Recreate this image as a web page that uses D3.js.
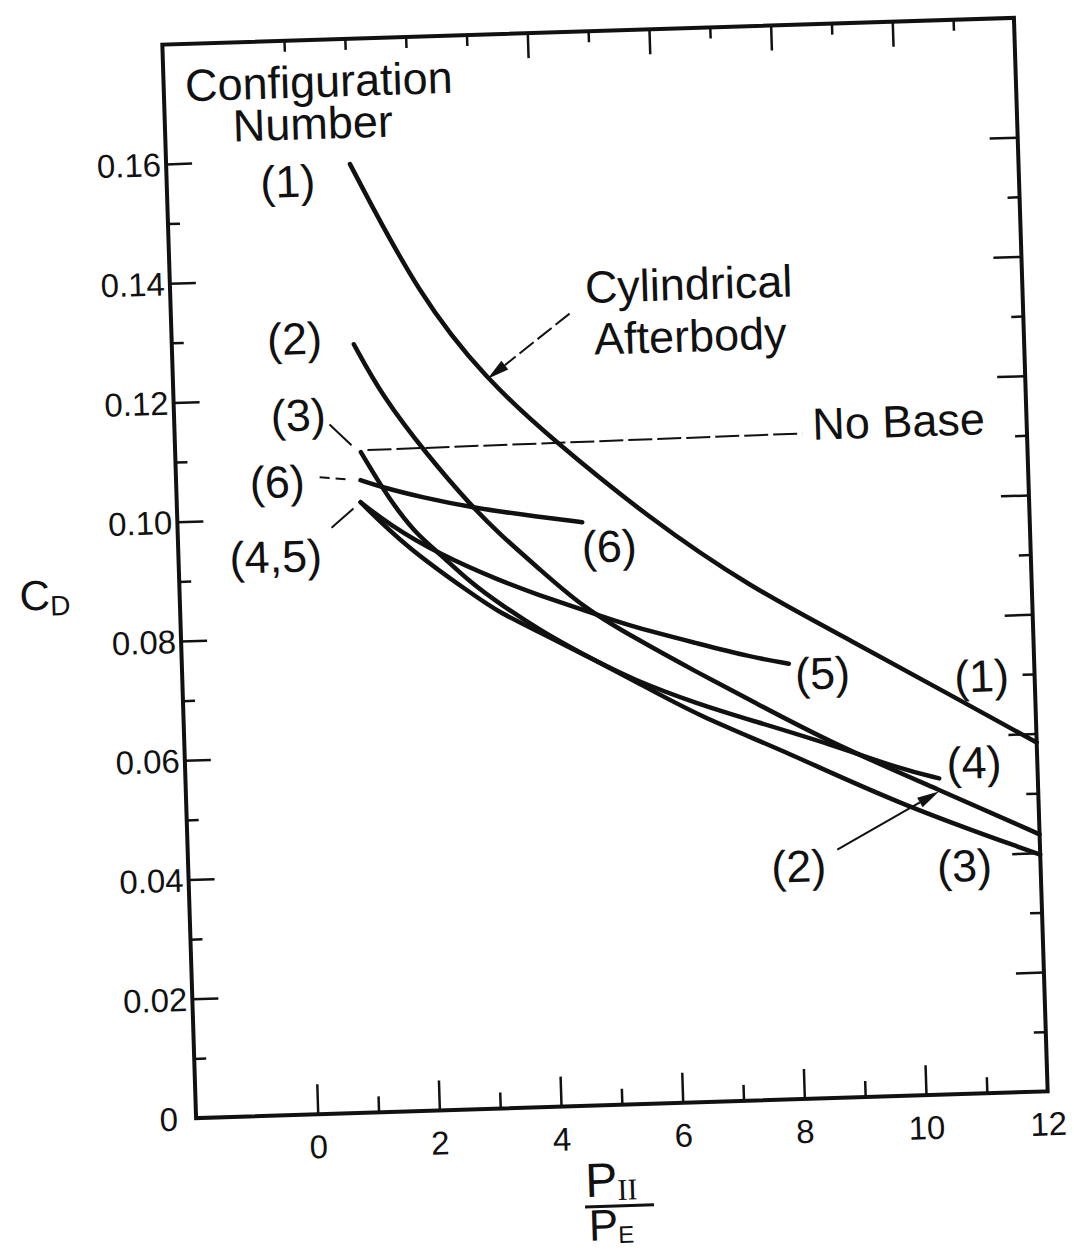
<!DOCTYPE html>
<html>
<head>
<meta charset="utf-8">
<script src="https://cdn.jsdelivr.net/npm/d3@7"></script>
<style>
  html, body { margin: 0; padding: 0; background: #fff; }
  svg { display: block; }
  text { font-family: "Liberation Sans", Arial, sans-serif; fill: #111; }
</style>
</head>
<body>
<svg id="chart" width="1074" height="1252"></svg>
<script>
// Drag coefficient C_D against pressure ratio P_II / P_E for six configurations

// Axis ticks
const xMajorTicks = [0, 2, 4, 6, 8, 10, 12];
const xMinorTicks = [1, 3, 5, 7, 9, 11];
const xTopTicks = [0, 1, 2, 3, 4, 5, 6, 7, 8, 9, 10, 11];
const yMajorTicks = [0, 0.02, 0.04, 0.06, 0.08, 0.10, 0.12, 0.14, 0.16];
const yMinorTicks = [0.01, 0.03, 0.05, 0.07, 0.09, 0.11, 0.13, 0.15];

// Configuration (1): cylindrical afterbody
const ratio1 = [1.02, 2.10, 3.16, 4.16, 5.76, 7.36, 8.98, 10.59, 12.0];
const cd1    = [0.159, 0.1363, 0.1221, 0.1122, 0.0980, 0.0861, 0.0767, 0.0670, 0.0585];
// Configuration (2)
const ratio2 = [0.99, 1.44, 2.13, 2.81, 3.29, 3.92, 4.61, 5.42, 6.50, 7.30, 8.64, 10.37, 12.0];
const cd2    = [0.1288, 0.1198, 0.1100, 0.1014, 0.0962, 0.0902, 0.0836, 0.0783, 0.0718, 0.0672, 0.0594, 0.0511, 0.0431];
// Configuration (3): no base
const ratio3 = [1.05, 1.40, 1.63, 1.93, 2.30, 2.78, 3.26, 3.90, 4.59, 5.40, 6.48, 7.86, 9.72, 12.0];
const cd3    = [0.1107, 0.1043, 0.1007, 0.0966, 0.0932, 0.0883, 0.0845, 0.0799, 0.0757, 0.0711, 0.0646, 0.0584, 0.0488, 0.0397];
// Configuration (4)
const ratio4 = [1.02, 1.75, 2.81, 3.24, 3.89, 4.59, 5.40, 6.49, 7.30, 8.64, 9.74, 10.38];
const cd4    = [0.1023, 0.0945, 0.0863, 0.0831, 0.0796, 0.0757, 0.0711, 0.0666, 0.0638, 0.0592, 0.0548, 0.0530];
// Configuration (5)
const ratio5 = [1.02, 1.48, 2.28, 3.25, 3.90, 4.60, 5.32, 6.51, 7.32, 7.97];
const cd5    = [0.1023, 0.0984, 0.0932, 0.0885, 0.0858, 0.0832, 0.0803, 0.0768, 0.0744, 0.0730];
// Configuration (6)
const ratio6 = [1.03, 1.38, 2.03, 2.85, 3.94, 4.65];
const cd6    = [0.1060, 0.1047, 0.1028, 0.1008, 0.0989, 0.0978];

// Text annotations: [text, ratio, C_D, anchor]
const annotations = [
  ["Configuration", 0.55, 0.1704, "middle"],
  ["Number", 0.43, 0.1634, "middle"],
  ["(1)", -0.01, 0.1538, "middle"],
  ["(2)", 0.02, 0.1274, "middle"],
  ["(3)", 0.04, 0.1146, "middle"],
  ["(6)", -0.34, 0.1035, "middle"],
  ["(4,5)", -0.40, 0.0910, "middle"],
  ["(6)", 5.08, 0.0910, "middle"],
  ["Cylindrical", 6.52, 0.1345, "middle"],
  ["Afterbody", 6.52, 0.1258, "middle"],
  ["No Base", 8.48, 0.1104, "start"],
  ["(5)", 8.52, 0.0686, "middle"],
  ["(1)", 11.13, 0.0673, "middle"],
  ["(4)", 10.96, 0.0528, "middle"],
  ["(2)", 8.03, 0.0364, "middle"],
  ["(3)", 10.75, 0.0356, "middle"]
];

// Leader lines: [[ratio, C_D], [ratio, C_D]], dash pattern
const leaders = [
  [[[1.16, 0.1110], [8.31, 0.1115]], "24,5"],
  [[[0.55, 0.1155], [0.90, 0.1119]], null],
  [[[0.36, 0.1067], [0.80, 0.1062]], "10,6"],
  [[[0.53, 0.0982], [0.90, 0.1013]], null]
];
// Arrows: tail then tip
const arrows = [
  [[4.55, 0.1328], [3.17, 0.1223], "18,5"],
  [[8.67, 0.0416], [10.37, 0.0508], null]
];

const svg = d3.select("#chart");
const x = d3.scaleLinear().domain([-2, 12]).range([179, 1031]);
const y = d3.scaleLinear().domain([0, 0.18]).range([1105, 31]);

// whole plate sits slightly tilted
const g = svg.append("g").attr("transform", "rotate(-1.8, 605, 568)");

const ink = "#111";

function styleAxis(sel) {
  sel.select(".domain").remove();
  sel.selectAll(".tick line").attr("stroke", ink).attr("stroke-width", 2.5);
  sel.selectAll(".tick text").remove();
}

// left ticks
g.append("g").attr("transform", `translate(${x(-2)},0)`)
  .call(d3.axisLeft(y).tickValues(yMajorTicks.filter(d => d > 0)).tickSizeInner(-26).tickSizeOuter(0))
  .call(styleAxis);
g.append("g").attr("transform", `translate(${x(-2)},0)`)
  .call(d3.axisLeft(y).tickValues(yMinorTicks).tickSizeInner(-12).tickSizeOuter(0))
  .call(styleAxis);
// right ticks
g.append("g").attr("transform", `translate(${x(12)},0)`)
  .call(d3.axisRight(y).tickValues(yMajorTicks.filter(d => d > 0)).tickSizeInner(-28).tickSizeOuter(0))
  .call(styleAxis);
g.append("g").attr("transform", `translate(${x(12)},0)`)
  .call(d3.axisRight(y).tickValues(yMinorTicks).tickSizeInner(-12).tickSizeOuter(0))
  .call(styleAxis);
// bottom ticks
g.append("g").attr("transform", `translate(0,${y(0)})`)
  .call(d3.axisBottom(x).tickValues(xMajorTicks.filter(d => d < 12)).tickSizeInner(-30).tickSizeOuter(0))
  .call(styleAxis);
g.append("g").attr("transform", `translate(0,${y(0)})`)
  .call(d3.axisBottom(x).tickValues(xMinorTicks).tickSizeInner(-16).tickSizeOuter(0))
  .call(styleAxis);
// top ticks
g.append("g").attr("transform", `translate(0,${y(0.18)})`)
  .call(d3.axisTop(x).tickValues(xTopTicks.filter(d => d >= 4 && d % 2 === 0)).tickSizeInner(-25).tickSizeOuter(0))
  .call(styleAxis);
g.append("g").attr("transform", `translate(0,${y(0.18)})`)
  .call(d3.axisTop(x).tickValues(xTopTicks.filter(d => !(d >= 4 && d % 2 === 0))).tickSizeInner(-11).tickSizeOuter(0))
  .call(styleAxis);

// frame
g.append("rect")
  .attr("x", x(-2)).attr("y", y(0.18))
  .attr("width", x(12) - x(-2)).attr("height", y(0) - y(0.18))
  .attr("fill", "none").attr("stroke", ink).attr("stroke-width", 4);

// tick labels
const yFmt = d => d === 0 ? "0" : d3.format(".2f")(d);
g.append("g").selectAll("text").data(yMajorTicks).join("text")
  .attr("x", d => x(-2) - (d === 0 ? 18 : 5))
  .attr("y", d => y(d) + 12)
  .attr("text-anchor", "end")
  .attr("font-size", 33)
  .text(yFmt);
g.append("g").selectAll("text").data(xMajorTicks).join("text")
  .attr("x", d => x(d))
  .attr("y", y(0) + 44)
  .attr("text-anchor", "middle")
  .attr("font-size", 33)
  .text(d => d);

// axis titles
const cd = g.append("text").attr("x", 19).attr("y", 592).attr("font-size", 42);
cd.append("tspan").text("C");
cd.append("tspan").attr("font-size", 28).attr("dy", 6).text("D");

const num = g.append("text").attr("x", 566).attr("y", 1196).attr("font-size", 48);
num.append("tspan").text("P");
num.append("tspan").attr("font-size", 30).attr("dy", 4)
  .style("font-family", "'Liberation Serif', serif").text("II");
g.append("line").attr("x1", 565).attr("x2", 634).attr("y1", 1206).attr("y2", 1206)
  .attr("stroke", ink).attr("stroke-width", 3);
const den = g.append("text").attr("x", 568).attr("y", 1240).attr("font-size", 44);
den.append("tspan").text("P");
den.append("tspan").attr("font-size", 24).attr("dy", 3).text("E");

// curves
const line = d3.line().x(d => x(d[0])).y(d => y(d[1])).curve(d3.curveBasis);
const curves = [
  d3.zip(ratio1, cd1), d3.zip(ratio2, cd2), d3.zip(ratio3, cd3),
  d3.zip(ratio4, cd4), d3.zip(ratio5, cd5), d3.zip(ratio6, cd6)
];
g.append("g").selectAll("path").data(curves).join("path")
  .attr("d", line)
  .attr("fill", "none").attr("stroke", ink)
  .attr("stroke-width", 4.5).attr("stroke-linecap", "round");

// leaders
g.append("g").selectAll("line").data(leaders).join("line")
  .attr("x1", d => x(d[0][0][0])).attr("y1", d => y(d[0][0][1]))
  .attr("x2", d => x(d[0][1][0])).attr("y2", d => y(d[0][1][1]))
  .attr("stroke", ink).attr("stroke-width", 2)
  .attr("stroke-dasharray", d => d[1]);

// arrows with filled heads
arrows.forEach(([tail, tip, dash]) => {
  const x0 = x(tail[0]), y0 = y(tail[1]), x1 = x(tip[0]), y1 = y(tip[1]);
  const a = Math.atan2(y1 - y0, x1 - x0), len = 22, half = 5.5;
  const bx = x1 - len * Math.cos(a), by = y1 - len * Math.sin(a);
  g.append("line").attr("x1", x0).attr("y1", y0).attr("x2", bx).attr("y2", by)
    .attr("stroke", ink).attr("stroke-width", 2).attr("stroke-dasharray", dash);
  g.append("path")
    .attr("d", `M${x1},${y1}L${bx - half * Math.sin(a)},${by + half * Math.cos(a)}L${bx + half * Math.sin(a)},${by - half * Math.cos(a)}Z`)
    .attr("fill", ink);
});

// annotations
g.append("g").selectAll("text").data(annotations).join("text")
  .attr("x", d => x(d[1])).attr("y", d => y(d[2]))
  .attr("text-anchor", d => d[3])
  .attr("font-size", 45)
  .text(d => d[0]);
</script>
</body>
</html>
